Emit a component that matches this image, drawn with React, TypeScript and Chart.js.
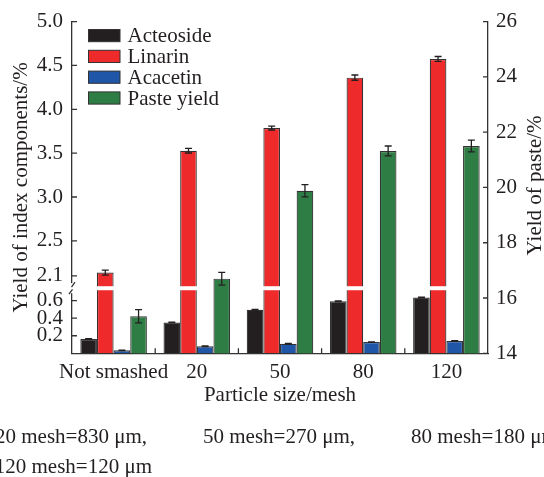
import React, { useEffect, useRef } from 'react';
import { Chart, registerables } from 'chart.js';

Chart.register(...registerables);

// ---------- data ----------
const categories = ['Not smashed', '20', '50', '80', '120'];

const acteoside = [0.163, 0.352, 0.497, 0.594, 0.636];
const acteosideErr = [0.004, 0.003, 0.004, 0.004, 0.004];

const linarin = [2.138, 3.528, 3.786, 4.361, 4.574];
const linarinErr = [0.028, 0.026, 0.022, 0.03, 0.028];

const acacetin = [0.034, 0.08, 0.109, 0.128, 0.14];
const acacetinErr = [0.003, 0.003, 0.003, 0.003, 0.003];

const pasteYield = [15.34, 16.7, 19.88, 21.32, 21.5];
const pasteYieldErr = [0.24, 0.23, 0.22, 0.18, 0.21];

const seriesNames = ['Acteoside', 'Linarin', 'Acacetin', 'Paste yield'];

const leftTickValues = [0.2, 0.4, 0.6, 2.1, 2.5, 3.0, 3.5, 4.0, 4.5, 5.0];
const leftTickLabels = ['0.2', '0.4', '0.6', '2.1', '2.5', '3.0', '3.5', '4.0', '4.5', '5.0'];
const rightTickValues = [14, 16, 18, 20, 22, 24, 26];

const leftTitle = 'Yield of index components/%';
const rightTitle = 'Yield of paste/%';
const xTitle = 'Particle size/mesh';

const noteLine1 = ['20 mesh=830 μm,', '50 mesh=270 μm,', '80 mesh=180 μm,'];
const noteLine2 = ['120 mesh=120 μm'];

// ---------- broken axis ----------
const AXIS_SHIFT = 1.218;
const BREAK_AT = 0.742;
const toAxis = (v: number) => (v > 1.2 ? v - AXIS_SHIFT : v);

// ---------- styles ----------
const colors = ['#231f20', '#ee2a2b', '#1f56a8', '#2e7d44'];
const FONT = "'Liberation Serif', 'Times New Roman', serif";
const TEXT = '#231f20';
const AXIS = '#333333';

const rawValues = [acteoside, linarin, acacetin, pasteYield];
const errValues = [acteosideErr, linarinErr, acacetinErr, pasteYieldErr];

const decorPlugin = {
  id: 'decor',
  afterDatasetsDraw(chart: any) {
    const ctx = chart.ctx;
    const ys = chart.scales.y;
    const yb = ys.getPixelForValue(BREAK_AT);
    ctx.save();
    // white break band through Linarin bars
    ctx.fillStyle = '#ffffff';
    chart.getDatasetMeta(1).data.forEach((el: any) => {
      const w = el.width;
      ctx.fillRect(el.x - w / 2 - 1, yb - 2, w + 2, 4);
    });
    // error bars
    ctx.strokeStyle = TEXT;
    ctx.lineWidth = 1.3;
    rawValues.forEach((vals, di) => {
      const m = chart.getDatasetMeta(di);
      const sc = chart.scales[m.yAxisID];
      const tf = di === 3 ? (v: number) => v : toAxis;
      m.data.forEach((el: any, i: number) => {
        const top = sc.getPixelForValue(tf(vals[i] + errValues[di][i]));
        const bot = sc.getPixelForValue(tf(vals[i] - errValues[di][i]));
        const x = el.x;
        ctx.beginPath();
        ctx.moveTo(x, top);
        ctx.lineTo(x, bot);
        ctx.moveTo(x - 3.5, top);
        ctx.lineTo(x + 3.5, top);
        ctx.moveTo(x - 3.5, bot);
        ctx.lineTo(x + 3.5, bot);
        ctx.stroke();
      });
    });
    ctx.restore();
  },
  afterDraw(chart: any) {
    const ctx = chart.ctx;
    const ca = chart.chartArea;
    const ys = chart.scales.y;
    const y2 = chart.scales.y2;
    const xs = chart.scales.x;
    ctx.save();
    // inward ticks
    ctx.strokeStyle = AXIS;
    ctx.lineWidth = 1.3;
    ctx.beginPath();
    leftTickValues.forEach((v) => {
      const y = ys.getPixelForValue(toAxis(v));
      ctx.moveTo(ca.left, y);
      ctx.lineTo(ca.left + 5, y);
    });
    rightTickValues.forEach((v) => {
      const y = y2.getPixelForValue(v);
      ctx.moveTo(ca.right, y);
      ctx.lineTo(ca.right - 5, y);
    });
    for (let i = 0; i < categories.length - 1; i++) {
      const x = (xs.getPixelForValue(i) + xs.getPixelForValue(i + 1)) / 2;
      ctx.moveTo(x, ca.bottom);
      ctx.lineTo(x, ca.bottom - 5);
    }
    ctx.stroke();

    // axis break mark
    const yb = ys.getPixelForValue(BREAK_AT);
    ctx.fillStyle = '#ffffff';
    ctx.fillRect(ca.left - 2, yb - 5, 4, 10);
    ctx.beginPath();
    ctx.moveTo(ca.left - 3, yb + 6);
    ctx.lineTo(ca.left + 0.5, yb + 1.2);
    ctx.moveTo(ca.left - 0.5, yb - 1.2);
    ctx.lineTo(ca.left + 3, yb - 6);
    ctx.stroke();

    // titles
    ctx.fillStyle = TEXT;
    ctx.font = `21px ${FONT}`;
    ctx.textAlign = 'center';
    ctx.textBaseline = 'middle';
    const cy = (ca.top + ca.bottom) / 2;
    ctx.save();
    ctx.translate(21, cy);
    ctx.rotate(-Math.PI / 2);
    ctx.fillText(leftTitle, 0, 0);
    ctx.restore();
    ctx.save();
    ctx.translate(535, cy - 2);
    ctx.rotate(-Math.PI / 2);
    ctx.fillText(rightTitle, 0, 0);
    ctx.restore();
    ctx.textBaseline = 'alphabetic';
    ctx.fillText(xTitle, (ca.left + ca.right) / 2, 401);

    // legend
    ctx.textAlign = 'left';
    seriesNames.forEach((name, i) => {
      const base = 42.3 + i * 20.8;
      ctx.fillStyle = colors[i];
      ctx.fillRect(88.5, base - 12.8, 31.5, 12.2);
      ctx.strokeStyle = AXIS;
      ctx.lineWidth = 1;
      ctx.strokeRect(88.5, base - 12.8, 31.5, 12.2);
      ctx.fillStyle = TEXT;
      ctx.fillText(name, 127.5, base);
    });

    // notes
    ctx.textAlign = 'right';
    ctx.fillText(noteLine1[0], 147, 443);
    ctx.fillText(noteLine2[0], 152, 473);
    ctx.textAlign = 'left';
    ctx.fillText(noteLine1[1], 203, 443);
    ctx.fillText(noteLine1[2], 411, 443);
    ctx.restore();
  },
};

export default function App() {
  const ref = useRef<HTMLCanvasElement | null>(null);

  useEffect(() => {
    if (!ref.current) return;
    const font = { family: FONT, size: 21 };
    const mk = (i: number, data: number[], axis: string) => ({
      label: seriesNames[i],
      data,
      yAxisID: axis,
      backgroundColor: colors[i],
      borderColor: AXIS,
      borderWidth: 1.2,
      categoryPercentage: 0.8,
      barPercentage: 1.0,
    });
    const chart = new Chart(ref.current, {
      type: 'bar',
      data: {
        labels: categories,
        datasets: [
          mk(0, acteoside.map(toAxis), 'y'),
          mk(1, linarin.map(toAxis), 'y'),
          mk(2, acacetin.map(toAxis), 'y'),
          mk(3, pasteYield, 'y2'),
        ],
      },
      options: {
        responsive: false,
        animation: false,
        layout: { padding: { top: 20.7, left: 0, right: 0, bottom: 0 } },
        plugins: { legend: { display: false }, tooltip: { enabled: false } },
        scales: {
          x: {
            grid: { display: false, drawTicks: false },
            border: { display: true, color: AXIS, width: 1.3 },
            ticks: { font, color: TEXT, padding: 7, maxRotation: 0, autoSkip: false },
            afterFit: (s: any) => {
              s.height = 123.7;
            },
          },
          y: {
            position: 'left',
            min: 0,
            max: toAxis(5.0),
            grid: { display: false, drawTicks: false },
            border: { display: true, color: AXIS, width: 1.3 },
            afterBuildTicks: (s: any) => {
              s.ticks = leftTickValues.map((v) => ({ value: toAxis(v) }));
            },
            ticks: {
              font,
              color: TEXT,
              padding: 9,
              autoSkip: false,
              callback: (_v: any, i: number) => leftTickLabels[i],
            },
            afterFit: (s: any) => {
              s.width = 72;
            },
          },
          y2: {
            position: 'right',
            min: 14,
            max: 26,
            grid: { display: false, drawTicks: false },
            border: { display: true, color: AXIS, width: 1.3 },
            afterBuildTicks: (s: any) => {
              s.ticks = rightTickValues.map((v) => ({ value: v }));
            },
            ticks: { font, color: TEXT, padding: 8, autoSkip: false, callback: (v: any) => String(v) },
            afterFit: (s: any) => {
              s.width = 56;
            },
          },
        },
      } as any,
      plugins: [decorPlugin],
    });
    return () => chart.destroy();
  }, []);

  return (
    <div style={{ position: 'fixed', left: 0, top: 0, width: 544, height: 477, background: '#fff', overflow: 'hidden' }}>
      <canvas ref={ref} width={544} height={477} style={{ display: 'block' }} />
    </div>
  );
}
